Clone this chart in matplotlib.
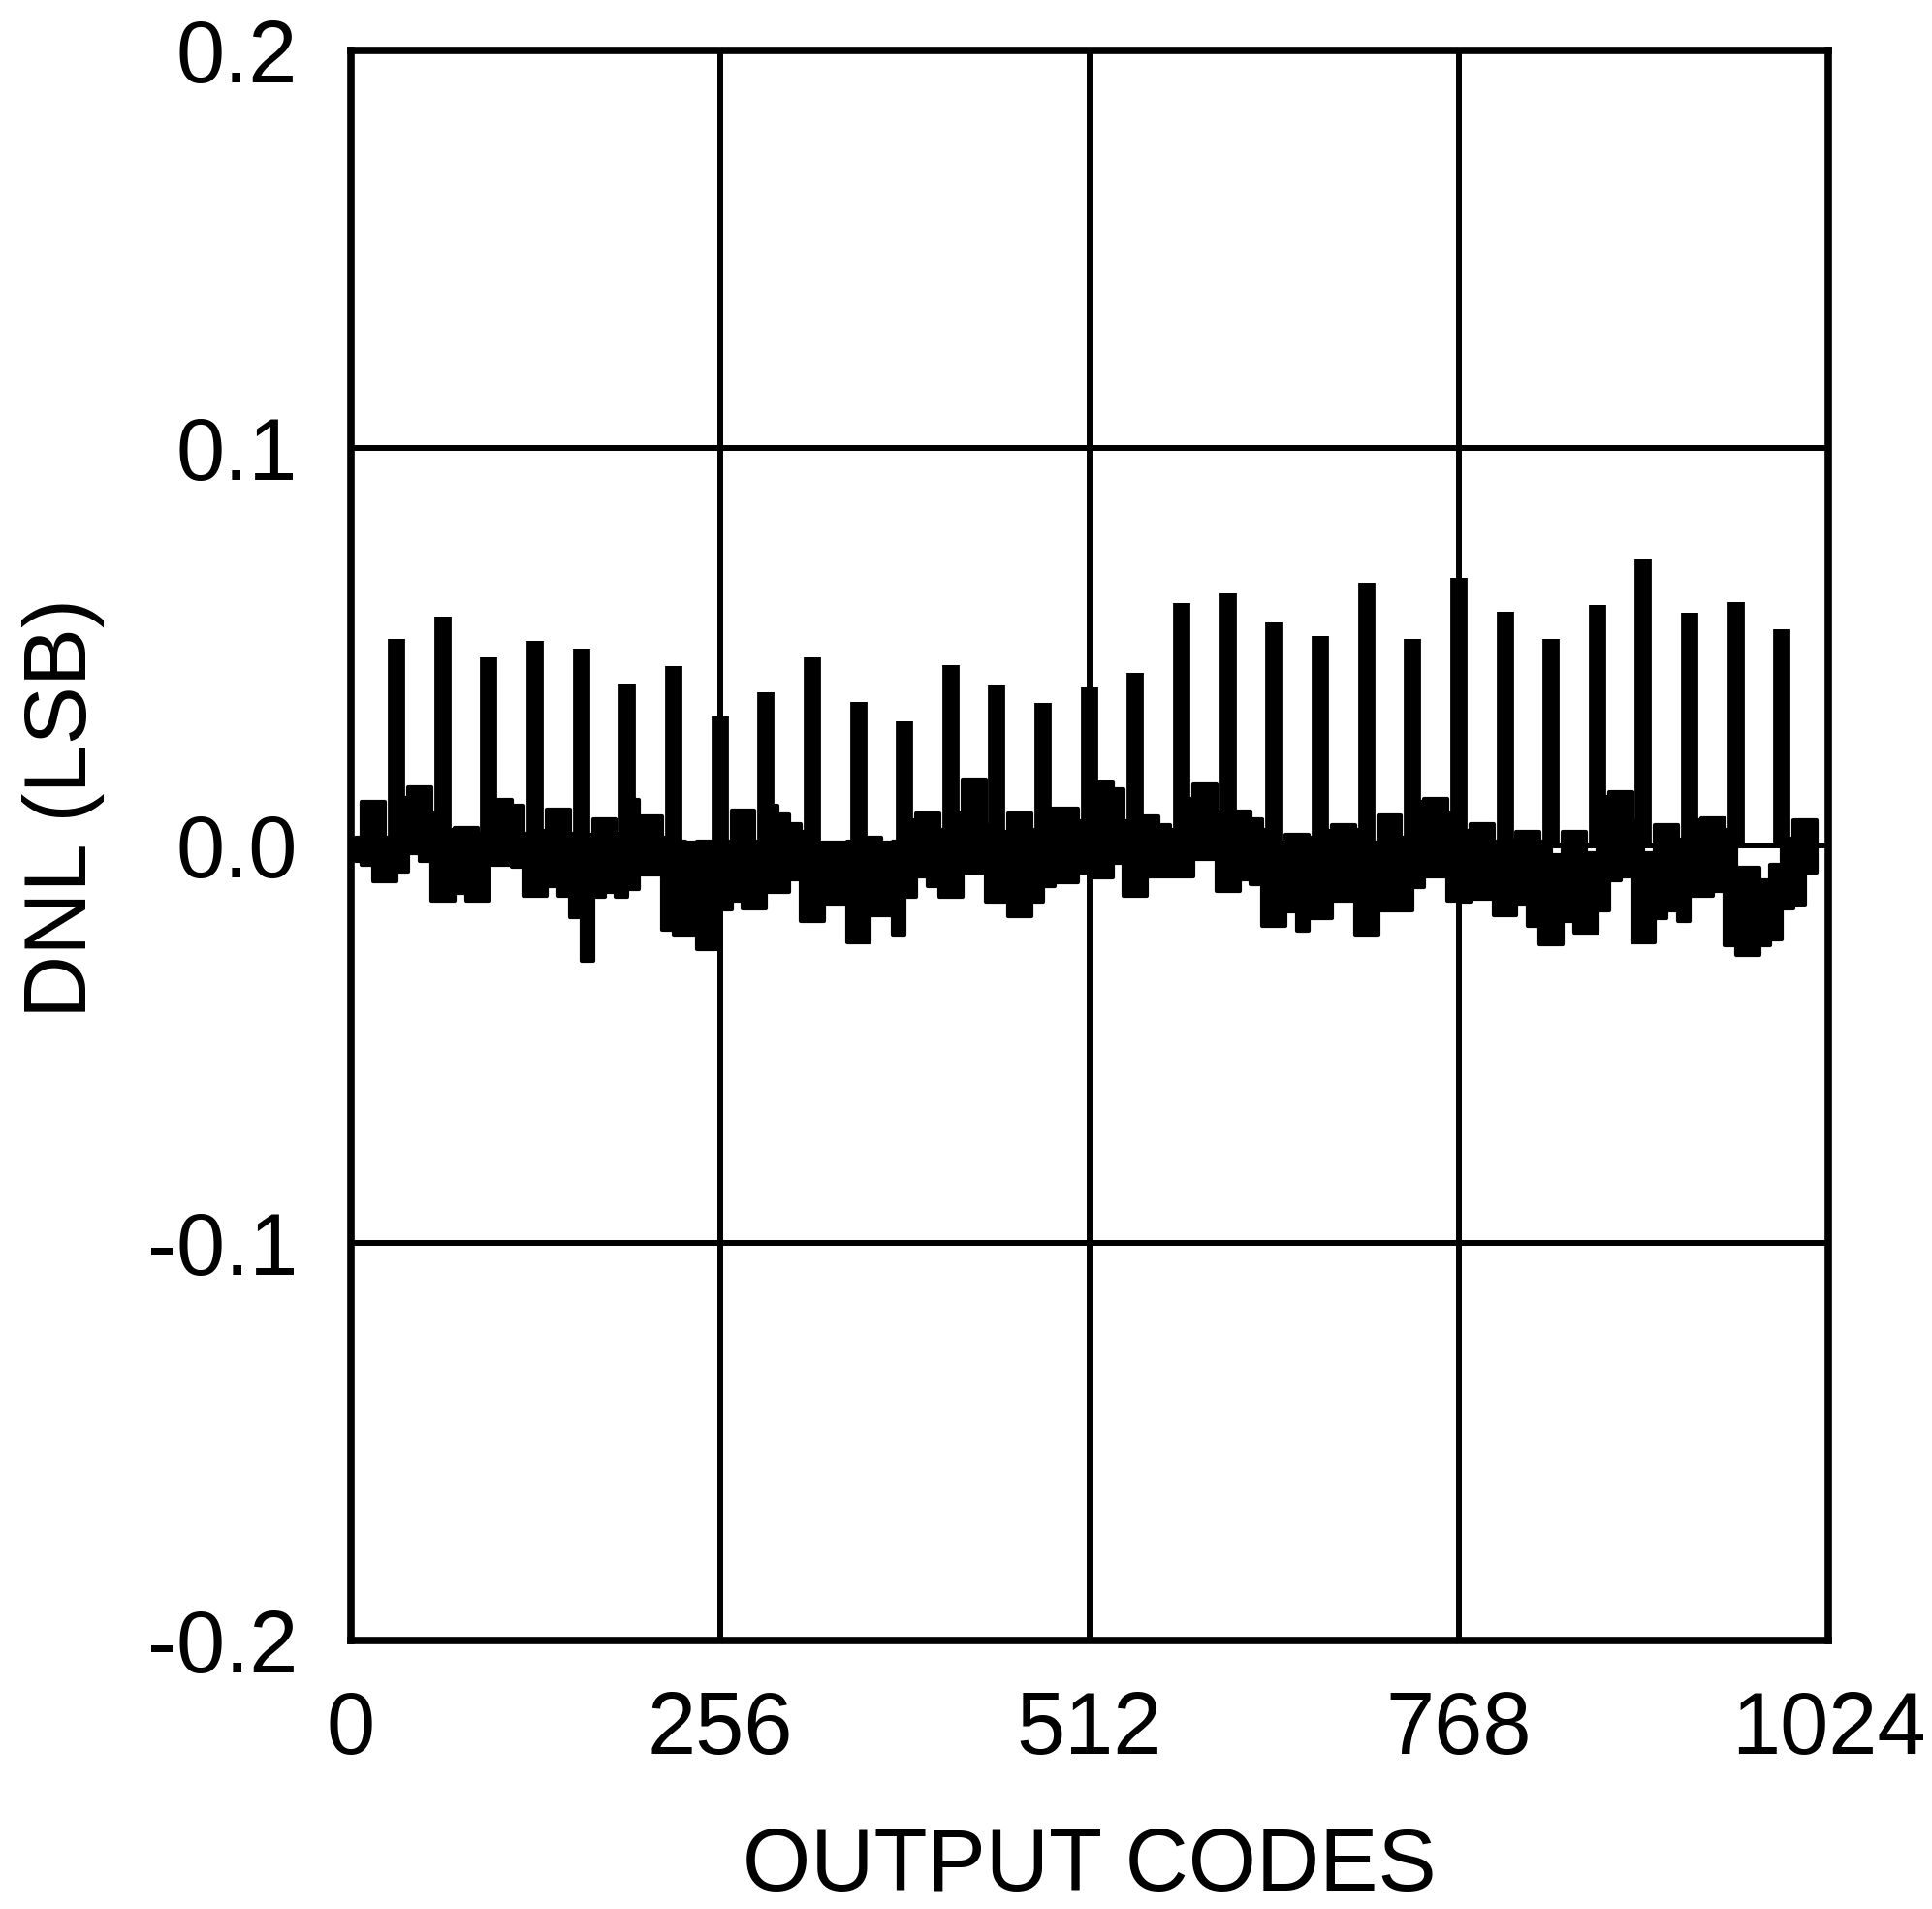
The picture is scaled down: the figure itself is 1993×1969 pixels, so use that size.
import matplotlib
matplotlib.use("Agg")
import matplotlib.pyplot as plt
import numpy as np

plt.rcParams['font.family'] = ['Liberation Sans', 'DejaVu Sans']
plt.rcParams['axes.unicode_minus'] = False

# ---- data ----
# DNL band per 8-code block (upper / lower edge, LSB), blocks start at code 0, 8, 16 ...
block_hi = [
    0.0020, 0.0110, 0.0110, 0.0020, 0.0120, 0.0146, 0.0146, 0.0080,
    0.0040, 0.0045, 0.0045, 0.0030, 0.0115, 0.0115, 0.0100, 0.0030,
    0.0037, 0.0090, 0.0090, 0.0030, 0.0028, 0.0067, 0.0067, 0.0030,
    0.0114, 0.0073, 0.0073, 0.0020, 0.0010, 0.0008, 0.0010, 0.0010,
    0.0010, 0.0087, 0.0087, 0.0010, 0.0100, 0.0077, 0.0053, 0.0034,
    0.0008, 0.0008, 0.0008, 0.0010, 0.0019, 0.0019, 0.0008, 0.0010,
    0.0063, 0.0081, 0.0081, 0.0040, 0.0081, 0.0165, 0.0165, 0.0050,
    0.0034, 0.0080, 0.0080, 0.0040, 0.0093, 0.0093, 0.0093, 0.0060,
    0.0159, 0.0159, 0.0142, 0.0060, 0.0073, 0.0073, 0.0051, 0.0040,
    0.0116, 0.0154, 0.0154, 0.0080, 0.0085, 0.0085, 0.0065, 0.0040,
    0.0008, 0.0027, 0.0027, 0.0020, 0.0037, 0.0051, 0.0051, 0.0040,
    0.0008, 0.0075, 0.0075, 0.0020, 0.0110, 0.0118, 0.0118, 0.0080,
    0.0037, 0.0053, 0.0053, 0.0010, 0.0012, 0.0033, 0.0033, 0.0010,
    -0.0024, 0.0033, 0.0033, -0.0020, 0.0122, 0.0134, 0.0134, 0.0060,
    -0.0020, 0.0050, 0.0050, 0.0015, 0.0063, 0.0069, 0.0069, 0.0040,
    -0.0057, -0.0057, -0.0089, -0.0050, 0.0016, 0.0063, 0.0063,
]
block_lo = [
    -0.0040, -0.0050, -0.0090, -0.0090, -0.0065, -0.0020, -0.0040, -0.0140,
    -0.0140, -0.0120, -0.0138, -0.0138, -0.0050, -0.0050, -0.0053, -0.0126,
    -0.0126, -0.0102, -0.0126, -0.0180, -0.0290, -0.0130, -0.0118, -0.0130,
    -0.0110, -0.0073, -0.0073, -0.0211, -0.0224, -0.0224, -0.0260, -0.0260,
    -0.0160, -0.0138, -0.0159, -0.0159, -0.0118, -0.0118, -0.0085, -0.0191,
    -0.0191, -0.0146, -0.0146, -0.0244, -0.0244, -0.0175, -0.0175, -0.0224,
    -0.0130, -0.0077, -0.0102, -0.0130, -0.0130, -0.0069, -0.0069, -0.0142,
    -0.0142, -0.0179, -0.0179, -0.0142, -0.0102, -0.0093, -0.0093, -0.0069,
    -0.0081, -0.0081, -0.0045, -0.0126, -0.0126, -0.0077, -0.0077, -0.0077,
    -0.0077, -0.0033, -0.0033, -0.0114, -0.0114, -0.0085, -0.0098, -0.0203,
    -0.0203, -0.0167, -0.0215, -0.0183, -0.0183, -0.0138, -0.0138, -0.0224,
    -0.0224, -0.0163, -0.0163, -0.0163, -0.0106, -0.0077, -0.0077, -0.0138,
    -0.0142, -0.0134, -0.0134, -0.0175, -0.0175, -0.0146, -0.0203, -0.0248,
    -0.0248, -0.0191, -0.0220, -0.0220, -0.0163, -0.0089, -0.0077, -0.0244,
    -0.0244, -0.0183, -0.0163, -0.0191, -0.0126, -0.0126, -0.0114, -0.0252,
    -0.0276, -0.0276, -0.0252, -0.0236, -0.0159, -0.0150, -0.0069,
]
# major-carry spikes at every 32nd code
spike_codes = list(range(32, 1024, 32))
spike_dnl = [
    0.0519, 0.0575, 0.0472, 0.0514, 0.0494, 0.0407, 0.0450, 0.0325,
    0.0386, 0.0472, 0.0361, 0.0311, 0.0453, 0.0402, 0.0358, 0.0397,
    0.0433, 0.0609, 0.0633, 0.0560, 0.0528, 0.0660, 0.0520, 0.0672,
    0.0587, 0.0520, 0.0604, 0.0719, 0.0585, 0.0611, 0.0543,
]
first_code, last_code = 4, 1016

x_ticks = [0, 256, 512, 768, 1024]
y_ticks = [-0.2, -0.1, 0.0, 0.1, 0.2]
y_ticklabels = ['-0.2', '-0.1', '0.0', '0.1', '0.2']

# ---- figure ----
W, H, DPI = 1993, 1969, 100
fig = plt.figure(figsize=(W / DPI, H / DPI), dpi=DPI)
ax = fig.add_axes([361.5 / W, (H - 1692) / H, 1524.5 / W, 1640 / H])

edges = np.append(np.arange(0, last_code, 8), last_code).astype(float)
edges[0] = first_code
hi = np.append(block_hi, block_hi[-1])
lo = np.append(block_lo, block_lo[-1])
ax.fill_between(edges, lo, hi, step='post', color='black', lw=3, edgecolor='black',
                joinstyle='round', zorder=3)
ax.vlines(spike_codes, 0, spike_dnl, colors='black', lw=12.8, capstyle='butt', zorder=3)

ax.set_xlim(0, 1024)
ax.set_ylim(-0.2, 0.2)
ax.set_xticks(x_ticks)
ax.set_xticklabels([str(t) for t in x_ticks])
ax.set_yticks(y_ticks)
ax.set_yticklabels(y_ticklabels)
ax.tick_params(axis='both', length=0, labelsize=65, colors='black')
ax.tick_params(axis='x', pad=37)
ax.tick_params(axis='y', pad=39)
ax.grid(True, color='black', lw=4.3, zorder=1)
ax.set_axisbelow(True)
for s in ax.spines.values():
    s.set_linewidth(5.5)
    s.set_zorder(5)

ax.set_xlabel('OUTPUT CODES', fontsize=65, labelpad=40)
ax.set_ylabel('DNL (LSB)', fontsize=65)
ax.yaxis.set_label_coords((108 - 361.5) / 1524.5, (1692 - 833) / 1640)

fig.savefig('out.png', dpi=DPI)
